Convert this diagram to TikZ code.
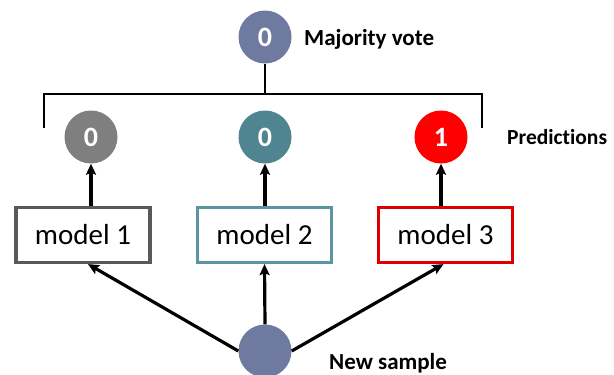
\documentclass[tikz,border=0pt]{standalone}
\usepackage{fontspec}
\setmainfont{Carlito}[Ligatures={NoCommon}]
\usetikzlibrary{arrows.meta}
\definecolor{slate}{HTML}{6F7AA0}
\definecolor{pgray}{HTML}{7F7F7F}
\definecolor{pteal}{HTML}{4F8490}
\definecolor{pred}{HTML}{FF0000}
\definecolor{bgray}{HTML}{595959}
\definecolor{bteal}{HTML}{5B95A1}
\definecolor{bred}{HTML}{DD0000}
\tikzset{
  dot/.style={circle, minimum size=53pt, inner sep=0pt, text=white, font=\fontsize{28}{28}\selectfont\bfseries},
  mbox/.style={rectangle, draw=#1, line width=3.2pt, fill=white, minimum width=134pt, minimum height=55pt, inner sep=0pt, font=\fontsize{29}{29}\selectfont},
  lbl/.style={anchor=west, font=\fontsize{23}{23}\selectfont\bfseries, inner sep=0pt},
  conn/.style={line width=3.2pt, -{Stealth[length=11pt,width=10pt,inset=2pt]}},
  brk/.style={line width=2.4pt}
}
\begin{document}
\begin{tikzpicture}[x=1pt,y=-1pt]
\useasboundingbox (0,0) rectangle (614,375);
\node[dot, fill=slate] (vote) at (265,37) {0};
\node[lbl] (votelbl) at (304,39) {Majority vote};
\node[dot, fill=pgray] (p1) at (91,137) {0};
\node[dot, fill=pteal] (p2) at (265,137) {0};
\node[dot, fill=pred] (p3) at (441,137) {1};
\node[lbl, font=\fontsize{21.5}{21.5}\selectfont\bfseries] (predlbl) at (507,137) {Predictions};
\node[mbox=bgray] (m1) at (83,235) {model 1};
\node[mbox=bteal] (m2) at (264.5,235) {model 2};
\node[mbox=bred] (m3) at (445.5,235) {model 3};
\node[dot, fill=slate] (s) at (265,351) {};
\node[lbl] (slbl) at (329,363) {New sample};
\coordinate (bl) at (44,128);
\coordinate (br) at (482,128);
\coordinate (bm) at (265,94);
\draw[brk] (bl) -- (bl |- bm) -- (br |- bm) -- (br);
\draw[brk] (vote.south) -- (bm);
\draw[conn] (m1.north -| p1) -- (p1.south);
\draw[conn] (m2.north -| p2) -- (p2.south);
\draw[conn] (m3.north -| p3) -- (p3.south);
\draw[conn] (s.west) -- ([xshift=5pt]m1.south);
\draw[conn] (s.north) -- (m2.south);
\draw[conn] (s.east) -- ([xshift=-2pt]m3.south);
\end{tikzpicture}
\end{document}
